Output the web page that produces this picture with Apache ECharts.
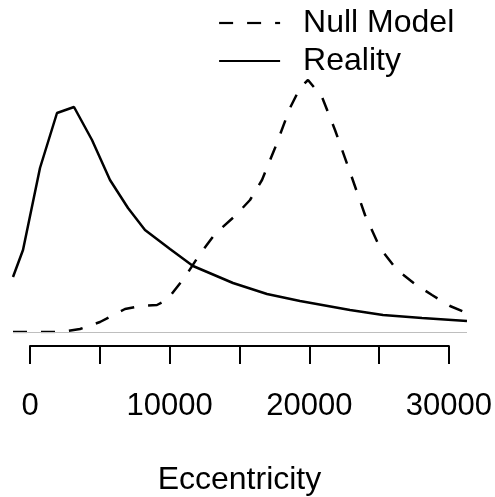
<!DOCTYPE html>
<html>
<head>
<meta charset="utf-8">
<script src="https://cdn.jsdelivr.net/npm/echarts@6/dist/echarts.min.js"></script>
<style>
html,body{margin:0;padding:0;background:#fff;}
#chart{width:495px;height:497px;}
</style>
</head>
<body>
<div id="chart"></div>
<script>
// Eccentricity values (x) and relative density (y)
const realityX = [-1214, -500, 714, 1929, 3143, 4429, 5714, 7000, 8214, 10000, 11643, 14500, 16929, 19286, 22857, 25214, 28000, 31214];
const realityY = [55, 82, 164, 219, 225, 192, 152, 124, 102, 83, 66, 49, 38, 31, 22, 17, 14, 11];

const nullX = [-1214, 2286, 3571, 5000, 6786, 7857, 9071, 9786, 11071, 12143, 13214, 14643, 15714, 16571, 17500, 18571, 19286, 19857, 20857, 21786, 22857, 23929, 25000, 26214, 27500, 28714, 30000, 31214];
const nullY = [0, 0, 3, 10, 23, 26, 27, 32, 55, 78, 98, 116, 132, 152, 184, 224, 244, 252, 235, 202, 160, 117, 84, 62, 48, 37, 26, 19];

const tickValues = [0, 5000, 10000, 15000, 20000, 25000, 30000];
const labelValues = [0, 10000, 20000, 30000];
const axisName = 'Eccentricity';
const seriesNames = ['Null Model', 'Reality'];

const zip = (xs, ys) => xs.map((x, i) => [x, ys[i]]);
const FONT = '"Liberation Sans", Arial, Helvetica, sans-serif';

const chart = echarts.init(document.getElementById('chart'), null, {renderer: 'canvas'});
chart.setOption({
  animation: false,
  backgroundColor: '#ffffff',
  grid: [
    {left: 13, right: 28, top: 0, bottom: 165},
    {left: 30, right: 45, top: 300, bottom: 150}
  ],
  xAxis: [
    {type: 'value', gridIndex: 0, min: realityX[0], max: realityX[realityX.length - 1], show: false},
    {
      type: 'value', gridIndex: 1, min: tickValues[0], max: tickValues[tickValues.length - 1],
      interval: tickValues[1] - tickValues[0],
      axisLine: {show: true, lineStyle: {color: '#000', width: 2}},
      axisTick: {show: true, length: 18, lineStyle: {color: '#000', width: 2}},
      splitLine: {show: false},
      axisLabel: {
        margin: 45, color: '#000', fontSize: 31, fontFamily: FONT,
        formatter: v => labelValues.indexOf(v) >= 0 ? String(v) : ''
      },
      name: axisName, nameLocation: 'middle', nameGap: 118,
      nameTextStyle: {color: '#000', fontSize: 32, fontFamily: FONT}
    }
  ],
  yAxis: [
    {type: 'value', gridIndex: 0, min: 0, max: 332, show: false},
    {type: 'value', gridIndex: 1, show: false}
  ],
  legend: {
    orient: 'vertical', left: 213, top: 2,
    itemWidth: 61, itemHeight: 10, itemGap: 6,
    data: seriesNames,
    itemStyle: {opacity: 0},
    lineStyle: {width: 2.2},
    textStyle: {color: '#000', fontSize: 32, fontFamily: FONT, lineHeight: 32, padding: [0, 0, 0, 18]}
  },
  series: [
    {
      name: seriesNames[0], type: 'line', xAxisIndex: 0, yAxisIndex: 0,
      data: zip(nullX, nullY), symbol: 'none', smooth: false,
      lineStyle: {color: '#000', width: 2.5, type: [14, 14]},
      itemStyle: {color: '#000'},
      markLine: {
        silent: true, symbol: 'none', label: {show: false},
        lineStyle: {color: '#bebebe', width: 1, type: 'solid'},
        data: [{yAxis: 0}]
      },
      z: 3
    },
    {
      name: seriesNames[1], type: 'line', xAxisIndex: 0, yAxisIndex: 0,
      data: zip(realityX, realityY), symbol: 'none', smooth: false,
      lineStyle: {color: '#000', width: 2.5, type: 'solid'},
      itemStyle: {color: '#000'},
      z: 4
    }
  ]
});
</script>
</body>
</html>
